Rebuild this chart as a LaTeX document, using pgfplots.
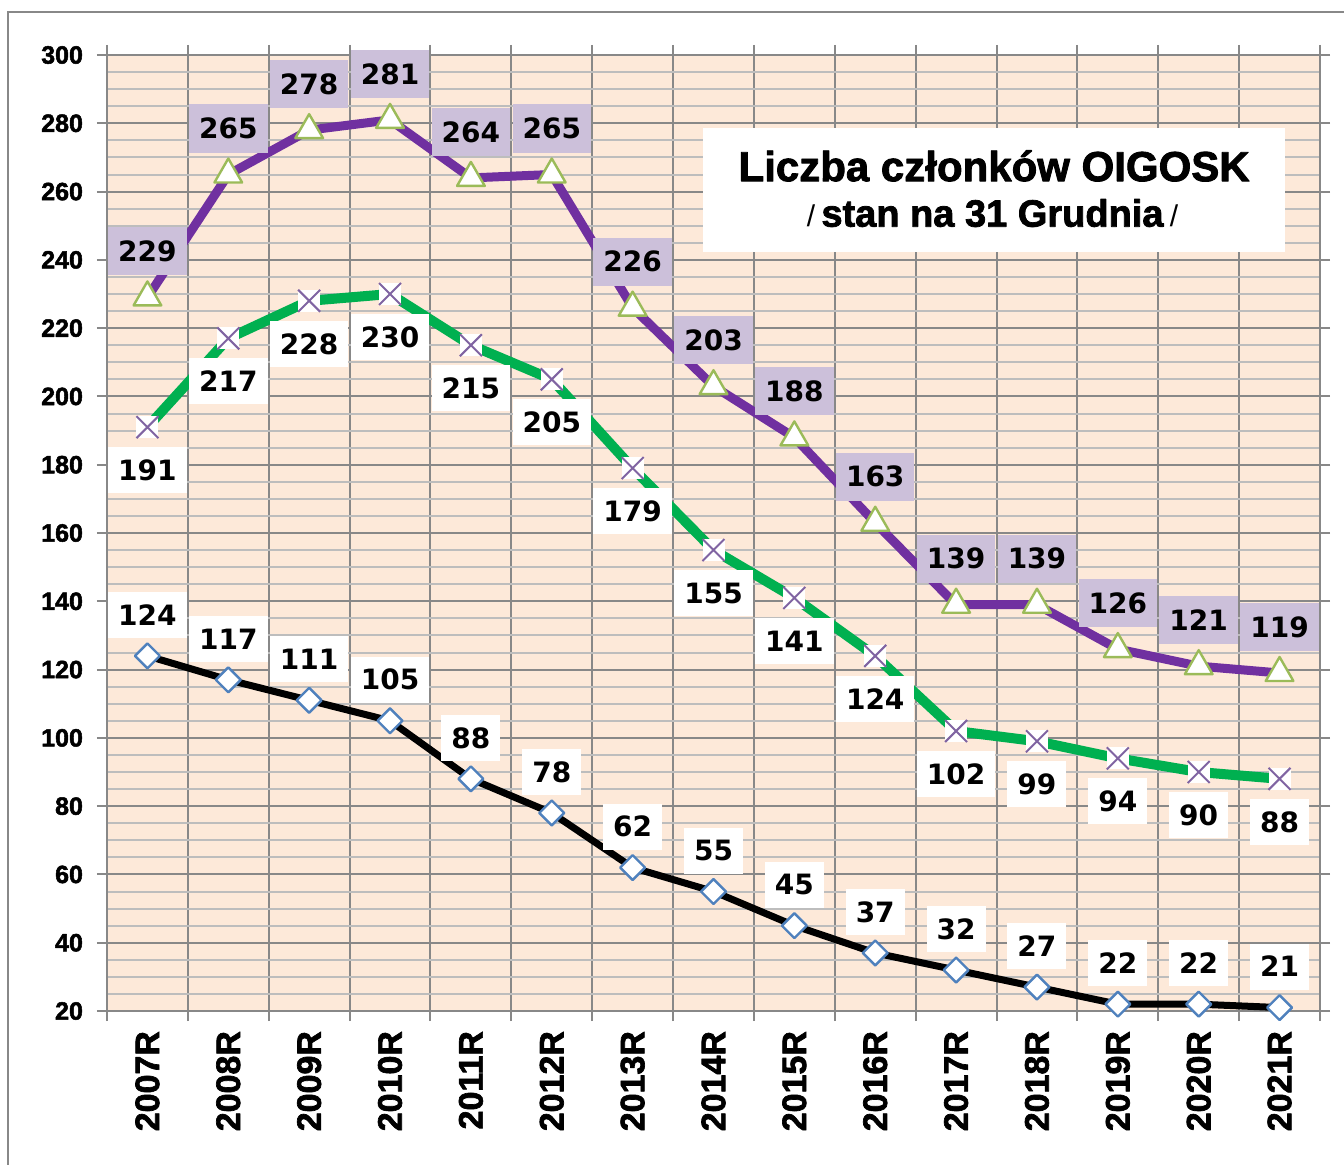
\documentclass[border=0pt]{standalone}
\usepackage{fontspec}
\setmainfont{Liberation Sans}[BoldFeatures={FakeBold=2}]
\newfontfamily\numfont{DejaVu Sans}
\usepackage{pgfplots}
\usepackage{pgfplotstable}
\pgfplotsset{compat=1.18}

\definecolor{bgpeach}{HTML}{FDE9D9}
\definecolor{gridmaj}{HTML}{888888}
\definecolor{gridmin}{HTML}{BDBDBD}
\definecolor{linepurple}{HTML}{7030A0}
\definecolor{linegreen}{HTML}{00B050}
\definecolor{trimark}{HTML}{9BBB59}
\definecolor{xmark}{HTML}{8064A2}
\definecolor{dmark}{HTML}{4F81BD}
\definecolor{lblpurple}{HTML}{CCC0DA}

% x on a white square, as in the spreadsheet
\pgfdeclareplotmark{boxx}{%
  \pgfpathrectangle{\pgfqpoint{-\pgfplotmarksize}{-\pgfplotmarksize}}{\pgfqpoint{2\pgfplotmarksize}{2\pgfplotmarksize}}%
  \pgfsetfillcolor{white}\pgfusepathqfill
  \pgfpathmoveto{\pgfqpoint{-\pgfplotmarksize}{-\pgfplotmarksize}}%
  \pgfpathlineto{\pgfqpoint{\pgfplotmarksize}{\pgfplotmarksize}}%
  \pgfpathmoveto{\pgfqpoint{-\pgfplotmarksize}{\pgfplotmarksize}}%
  \pgfpathlineto{\pgfqpoint{\pgfplotmarksize}{-\pgfplotmarksize}}%
  \pgfusepathqstroke}

\pgfplotstableread{
x a b c
0 229 191 124
1 265 217 117
2 278 228 111
3 281 230 105
4 264 215 88
5 265 205 78
6 226 179 62
7 203 155 55
8 188 141 45
9 163 124 37
10 139 102 32
11 139 99 27
12 126 94 22
13 121 90 22
14 119 88 21
}\datatable

\newcommand{\lblfont}{\numfont\bfseries\fontsize{14}{16}\selectfont}

\begin{document}
\begin{tikzpicture}
\useasboundingbox (-53.5pt,-76.5pt) rectangle (618.5pt,505.5pt);
\begin{axis}[
  at={(0,0)}, anchor=south west,
  scale only axis, width=606.5pt, height=478pt,
  xmin=-0.5, xmax=14.5, ymin=20, ymax=300,
  xtick={-0.5,0.5,1.5,2.5,3.5,4.5,5.5,6.5,7.5,8.5,9.5,10.5,11.5,12.5,13.5,14.5},
  xticklabels={},
  extra x ticks={0,1,2,3,4,5,6,7,8,9,10,11,12,13,14},
  extra x tick labels={2007R,2008R,2009R,2010R,2011R,2012R,2013R,2014R,2015R,2016R,2017R,2018R,2019R,2020R,2021R},
  extra x tick style={grid=none, major tick length=0pt,
    tick label style={rotate=90, anchor=east, xshift=-6.5pt,
      font=\bfseries\fontsize{17}{17}\selectfont}},
  ytick={20,40,...,300},
  minor y tick num=3,
  grid=both,
  major grid style={gridmaj, line width=1pt},
  minor grid style={gridmin, line width=1pt},
  axis line style={gridmaj, line width=1pt},
  tick style={gridmaj, line width=1pt},
  major tick length=5pt, minor tick length=0pt,
  tick align=outside,
  axis background/.style={fill=bgpeach},
  yticklabel style={font=\bfseries\fontsize{12.5}{12.5}\selectfont, xshift=-3.5pt},
  clip=false,
  /pgf/number format/assume math mode=true,
  line join=round,
]
\addplot[black, line width=3.5pt, mark=square*, mark size=4.4pt,
  mark options={solid, rotate=45, fill=white, draw=dmark, line width=1.2pt},
  nodes near coords,
  every node near coord/.append style={fill=white, anchor=center, yshift=20.5pt,
    inner xsep=5pt, minimum height=23pt, font=\lblfont, text=black}]
  table[x=x, y=c] {\datatable};
\addplot[linegreen, line width=5pt, mark=boxx, mark size=5.5pt,
  mark options={solid, draw=xmark, line width=1pt},
  nodes near coords,
  every node near coord/.append style={fill=white, anchor=center, yshift=-21.5pt,
    inner xsep=5pt, minimum height=23pt, font=\lblfont, text=black}]
  table[x=x, y=b] {\datatable};
\addplot[linepurple, line width=4.5pt, mark=triangle*, mark size=8pt,
  mark options={solid, fill=white, draw=trimark, line width=1.2pt},
  nodes near coords,
  every node near coord/.append style={fill=lblpurple, anchor=center, yshift=23pt,
    inner xsep=5pt, minimum height=24pt, font=\lblfont, text=black}]
  table[x=x, y=a] {\datatable};

\node[fill=white, minimum width=291pt, minimum height=62pt] at (axis cs:10.47,260.5) {};
\node[font=\bfseries\fontsize{21}{21}\selectfont] at (axis cs:10.47,267.5) {Liczba członków OIGOSK};
\node[font=\bfseries\fontsize{19}{19}\selectfont] at (axis cs:10.45,253.7) {{\mdseries\fontsize{15}{15}\selectfont/}\,stan na 31 Grudnia\,{\mdseries\fontsize{15}{15}\selectfont/}};
\end{axis}
\draw[gridmaj, line width=1pt] (-49.5pt,-90pt) -- (-49.5pt,499.5pt) -- (630pt,499.5pt);
\end{tikzpicture}
\end{document}
